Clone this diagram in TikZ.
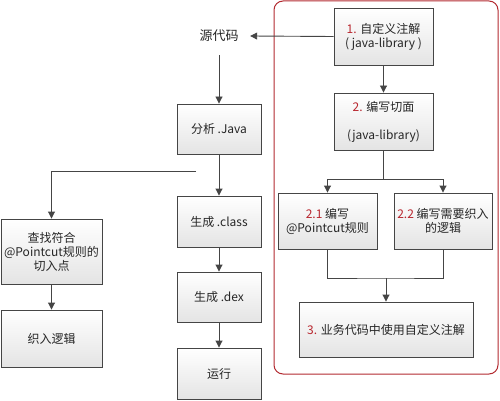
\documentclass[tikz,border=0pt]{standalone}
\usepackage{fontspec}
\setmainfont{Noto Sans CJK SC}
\usetikzlibrary{arrows.meta,shadows}
\definecolor{boxline}{HTML}{454545}
\definecolor{numred}{HTML}{B8262E}
\definecolor{framered}{HTML}{B22A30}
\definecolor{boxbot}{HTML}{E4E4E4}
\newcommand{\rn}[1]{\textcolor{numred}{#1}}
\tikzset{
  box/.style={draw=boxline, line width=0.9pt, top color=white, bottom color=boxbot,
    align=center, inner sep=2pt, font=\fontsize{12}{14}\selectfont, text=black!85,
    drop shadow={opacity=0.18, shadow xshift=1.2pt, shadow yshift=-1.2pt}},
  arr/.style={draw=boxline, line width=0.9pt, -{Triangle[width=7pt,length=7pt]}},
  ln/.style={draw=boxline, line width=0.9pt},
  frame/.style={draw=framered, line width=1pt, rounded corners=9pt, inner sep=0pt}
}
\begin{document}
\begin{tikzpicture}[x=1pt,y=-1pt]
\useasboundingbox (0,0) rectangle (500,401);
\node[frame, minimum width=224, minimum height=373] (fr) at (386,187.5) {};
% right column
\node[box, minimum width=99, minimum height=57] (b1) at (383.5,36.5) {\rn{1.} 自定义注解\\( java-library )};
\node[box, minimum width=99, minimum height=57] (b2) at (383.5,121.5) {\rn{2.} 编写切面\\[14pt](java-library)};
\node[box, minimum width=99, minimum height=56] (b21) at (327.5,221) {\rn{2.1} 编写\\@Pointcut规则};
\node[box, minimum width=98, minimum height=56] (b22) at (443,221) {\rn{2.2} 编写需要织入\\的逻辑};
\node[box, minimum width=174, minimum height=55] (b3) at (386,329.5) {\rn{3.} 业务代码中使用自定义注解};
% middle column
\node[minimum width=62, minimum height=38, inner sep=0pt, font=\fontsize{13}{15}\selectfont, text=black!85] (src) at (219,36) {源代码};
\node[box, minimum width=84, minimum height=50] (ana) at (219,129) {分析 .Java};
\node[box, minimum width=84, minimum height=51] (cls) at (219,221.5) {生成 .class};
\node[box, minimum width=84, minimum height=50] (dex) at (219,297) {生成 .dex};
\node[box, minimum width=84, minimum height=51] (run) at (219,373.5) {运行};
% left column
\node[box, minimum width=101, minimum height=65] (find) at (51.5,251.5) {查找符合\\@Pointcut规则的\\切入点};
\node[box, minimum width=101, minimum height=57] (weave) at (51.5,338.5) {织入逻辑};
% connectors
\draw[arr] (b1.west) -- (src.east);
\draw[arr] (src.south) -- (ana.north);
\draw[arr] (ana.south) -- (cls.north);
\draw[arr] (cls.south) -- (dex.north);
\draw[arr] (dex.south) -- (run.north);
\coordinate (br) at (196,171);
\draw[arr] (br) -| (find.north);
\draw[arr] (find.south) -- (weave.north);
\draw[arr] (b1.south) -- (b2.north);
\coordinate (sp) at (383.5,179);
\draw[ln] (b2.south) -- (sp);
\draw[arr] (sp) -| (b21.north);
\draw[arr] (sp) -| (b22.north);
\coordinate (mg) at (386,278);
\draw[ln] (b21.south) |- (mg) -| (b22.south);
\draw[arr] (mg) -- (b3.north);
\end{tikzpicture}
\end{document}
